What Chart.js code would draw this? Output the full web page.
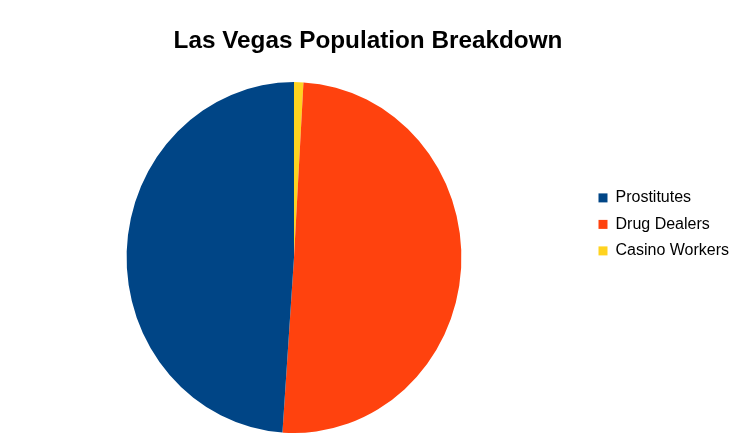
<!DOCTYPE html>
<html>
<head>
<meta charset="utf-8">
<script src="https://cdn.jsdelivr.net/npm/chart.js@4"></script>
<style>
  html, body { margin: 0; padding: 0; background: #fff; }
  #wrap { width: 736px; height: 445px; }
</style>
</head>
<body>
<div id="wrap"><canvas id="pie" width="736" height="445"></canvas></div>
<script>
const categories = ['Prostitutes', 'Drug Dealers', 'Casino Workers'];
const shares = [48.9, 50.2, 0.9];
const colors = ['#004586', '#ff420e', '#ffd320'];

// the original sheet draws its slices counter-clockwise, so feed them reversed
// and flip the legend back
const rev = a => a.slice().reverse();

// image was stretched a little vertically, pie is an ellipse
const stretchPie = {
    id: 'stretchPie',
    beforeDatasetsDraw(chart) {
        const arc = chart.getDatasetMeta(0).data[0];
        const ctx = chart.ctx;
        ctx.save();
        ctx.translate(arc.x, arc.y);
        ctx.scale(1, 1.048);
        ctx.translate(-arc.x, -arc.y);
    },
    afterDatasetsDraw(chart) {
        chart.ctx.restore();
    }
};

const ctx = document.getElementById('pie').getContext('2d');

new Chart(ctx, {
    type: 'pie',
    data: {
        labels: rev(categories),
        datasets: [{
            data: rev(shares),
            backgroundColor: rev(colors),
            borderWidth: 0,
            hoverOffset: 0
        }]
    },
    options: {
        responsive: false,
        animation: false,
        layout: { padding: { bottom: 20 } },
        plugins: {
            tooltip: { enabled: false },
            title: {
                display: true,
                text: 'Las Vegas Population Breakdown',
                color: '#000',
                font: { family: "'Liberation Sans', Arial, sans-serif", size: 24.3, weight: 'bold', lineHeight: 1.2 },
                padding: { top: 27, bottom: 34 }
            },
            legend: {
                position: 'right',
                align: 'start',
                reverse: true,
                maxWidth: 148,
                title: {
                    // empty spacer that pushes the entries down
                    display: true,
                    text: ' ',
                    font: { size: 12 },
                    padding: { top: 0, bottom: 165 }
                },
                labels: {
                    boxWidth: 9,
                    boxHeight: 9,
                    padding: 10.5,
                    color: '#000',
                    font: { family: "'Liberation Sans', Arial, sans-serif", size: 16 }
                }
            }
        }
    },
    plugins: [stretchPie]
});
</script>
</body>
</html>
